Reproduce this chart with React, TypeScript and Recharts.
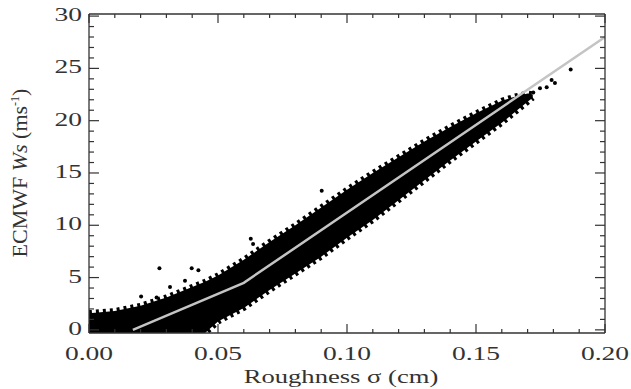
import { ComposedChart, Area, Line, Scatter, XAxis, YAxis, Label } from 'recharts';

// dense point cloud, read as a band: roughness (cm) -> lower / upper wind speed (m/s)
const cloudX = [0, 0.01, 0.02, 0.03, 0.04, 0.045, 0.05, 0.06, 0.07, 0.08, 0.09, 0.1, 0.11, 0.12, 0.13, 0.14, 0.15, 0.16, 0.165, 0.17, 0.172];
const cloudLow = [-0.3, -0.3, -0.3, -0.3, -0.3, -0.3, 0.8, 2.1, 3.8, 5.4, 7.0, 8.8, 10.5, 12.4, 14.3, 16.2, 18.0, 19.8, 20.8, 21.8, 22.2];
const cloudHigh = [1.6, 1.8, 2.3, 3.1, 4.1, 4.6, 5.2, 6.7, 8.4, 10.0, 11.7, 13.4, 15.0, 16.5, 18.0, 19.4, 20.7, 21.9, 22.3, 22.6, 22.5];

// stray points outside the cloud
const outX = [0.0202, 0.0262, 0.0273, 0.0314, 0.0372, 0.0398, 0.0424, 0.0627, 0.0636, 0.0902, 0.1722, 0.1748, 0.1774, 0.1793, 0.1806, 0.1867];
const outY = [3.2, 3.1, 5.9, 4.1, 4.7, 5.9, 5.7, 8.7, 8.2, 13.3, 22.7, 23.1, 23.2, 23.9, 23.6, 24.9];

// fitted relation (grey line)
const fitX = [0.017, 0.06, 0.2];
const fitY = [0, 4.5, 28];

const xMajor = [0, 0.05, 0.1, 0.15, 0.2];
const xLabels = ['0.00', '0.05', '0.10', '0.15', '0.20'];
const yMajor = [0, 5, 10, 15, 20, 25, 30];
const yLabels = ['0', '5', '10', '15', '20', '25', '30'];
// minor ticks every 0.01 and every 1
const xTicks = Array.from({ length: 21 }, (_, i) => i / 100);
const yTicks = Array.from({ length: 31 }, (_, i) => i);

const cloudRows = cloudX.map((x, i) => ({ x, band: [cloudLow[i], cloudHigh[i]] }));
const outRows = outX.map((x, i) => ({ x, y: outY[i] }));
const fitRows = fitX.map((x, i) => ({ x, y: fitY[i] }));

const font = '"Liberation Serif", "Times New Roman", serif';
const ink = '#333';
const frame = { stroke: '#333', strokeWidth: 1.3 };

const findMajor = (v: number, majors: number[]) => majors.findIndex((m) => Math.abs(m - v) < 1e-6);

const tickText = { fontFamily: font, fontSize: 19, fill: ink };

const BottomTick = ({ x, y, payload }: any) => {
  const i = findMajor(payload.value, xMajor);
  const len = i >= 0 ? 9 : 4;
  return (
    <g>
      <path d={`M${x},${y}V${y - len}`} stroke={ink} strokeWidth={1.2} fill="none" />
      {i >= 0 && (
        <text transform={`translate(${x},${y + 27}) scale(1.45,1)`} textAnchor="middle" {...tickText}>
          {xLabels[i]}
        </text>
      )}
    </g>
  );
};

const TopTick = ({ x, y, payload }: any) => {
  const i = findMajor(payload.value, xMajor);
  const len = i >= 0 ? 9 : 4;
  return <path d={`M${x},${y}V${y + len}`} stroke={ink} strokeWidth={1.2} fill="none" />;
};

const LeftTick = ({ x, y, payload }: any) => {
  const i = findMajor(payload.value, yMajor);
  const len = i >= 0 ? 10 : 5;
  return (
    <g>
      <path d={`M${x},${y}H${x + len}`} stroke={ink} strokeWidth={1.2} fill="none" />
      {i >= 0 && (
        <text transform={`translate(${x - 7},${y + 5}) scale(1.45,1)`} textAnchor="end" {...tickText}>
          {yLabels[i]}
        </text>
      )}
    </g>
  );
};

const RightTick = ({ x, y, payload }: any) => {
  const i = findMajor(payload.value, yMajor);
  const len = i >= 0 ? 10 : 5;
  return <path d={`M${x},${y}H${x - len}`} stroke={ink} strokeWidth={1.2} fill="none" />;
};

const XTitle = () => (
  <text transform="translate(341,383) scale(1.4,1)" textAnchor="middle" fontFamily={font} fontSize={19} fill={ink}>
    Roughness σ (cm)
  </text>
);

const YTitle = () => (
  <text transform="translate(27,173) rotate(-90)" textAnchor="middle" fontFamily={font} fontSize={22} fill={ink}>
    ECMWF <tspan fontStyle="italic">Ws</tspan> (ms<tspan dy={-8} fontSize={12}>-1</tspan>
    <tspan dy={8}>)</tspan>
  </text>
);

const Dot = ({ cx, cy }: any) => <circle cx={cx} cy={cy} r={2} fill="#000" />;

const App = () => {
  return (
    <div style={{ position: 'absolute', left: 0, top: 0, background: '#fff' }}>
      <ComposedChart width={631} height={389} margin={{ top: 13, right: 25, bottom: 0, left: 0 }}>
        <XAxis
          xAxisId="bottom"
          type="number"
          dataKey="x"
          domain={[0, 0.2]}
          ticks={xTicks}
          interval={0}
          tick={<BottomTick />}
          tickLine={false}
          tickSize={0}
          tickMargin={0}
          height={56}
          allowDataOverflow
          axisLine={frame}
        >
          <Label content={<XTitle />} />
        </XAxis>
        <XAxis
          xAxisId="top"
          orientation="top"
          type="number"
          dataKey="x"
          domain={[0, 0.2]}
          ticks={xTicks}
          interval={0}
          tick={<TopTick />}
          tickLine={false}
          tickSize={0}
          tickMargin={0}
          height={1}
          allowDataOverflow
          axisLine={frame}
        />
        <YAxis
          yAxisId="left"
          type="number"
          domain={[-0.3, 30.2]}
          ticks={yTicks}
          interval={0}
          tick={<LeftTick />}
          tickLine={false}
          tickSize={0}
          tickMargin={0}
          width={89}
          allowDataOverflow
          axisLine={frame}
        >
          <Label content={<YTitle />} />
        </YAxis>
        <YAxis
          yAxisId="right"
          orientation="right"
          type="number"
          domain={[-0.3, 30.2]}
          ticks={yTicks}
          interval={0}
          tick={<RightTick />}
          tickLine={false}
          tickSize={0}
          tickMargin={0}
          width={1}
          allowDataOverflow
          axisLine={frame}
        />
        <Area
          xAxisId="bottom"
          yAxisId="left"
          data={cloudRows}
          dataKey="band"
          type="linear"
          fill="#000"
          fillOpacity={1}
          stroke="#000"
          strokeWidth={6}
          strokeDasharray="3 4"
          isAnimationActive={false}
        />
        <Scatter xAxisId="bottom" yAxisId="left" data={outRows} dataKey="y" shape={<Dot />} isAnimationActive={false} />
        <Line
          xAxisId="bottom"
          yAxisId="left"
          data={fitRows}
          dataKey="y"
          type="linear"
          stroke="#c4c4c4"
          strokeWidth={2.5}
          dot={false}
          isAnimationActive={false}
        />
        {/* invisible copy tied to the mirrored top/right axes so they are drawn */}
        <Line
          xAxisId="top"
          yAxisId="right"
          data={fitRows}
          dataKey="y"
          stroke="none"
          dot={false}
          activeDot={false}
          legendType="none"
          isAnimationActive={false}
        />
      </ComposedChart>
    </div>
  );
};

export default App;
